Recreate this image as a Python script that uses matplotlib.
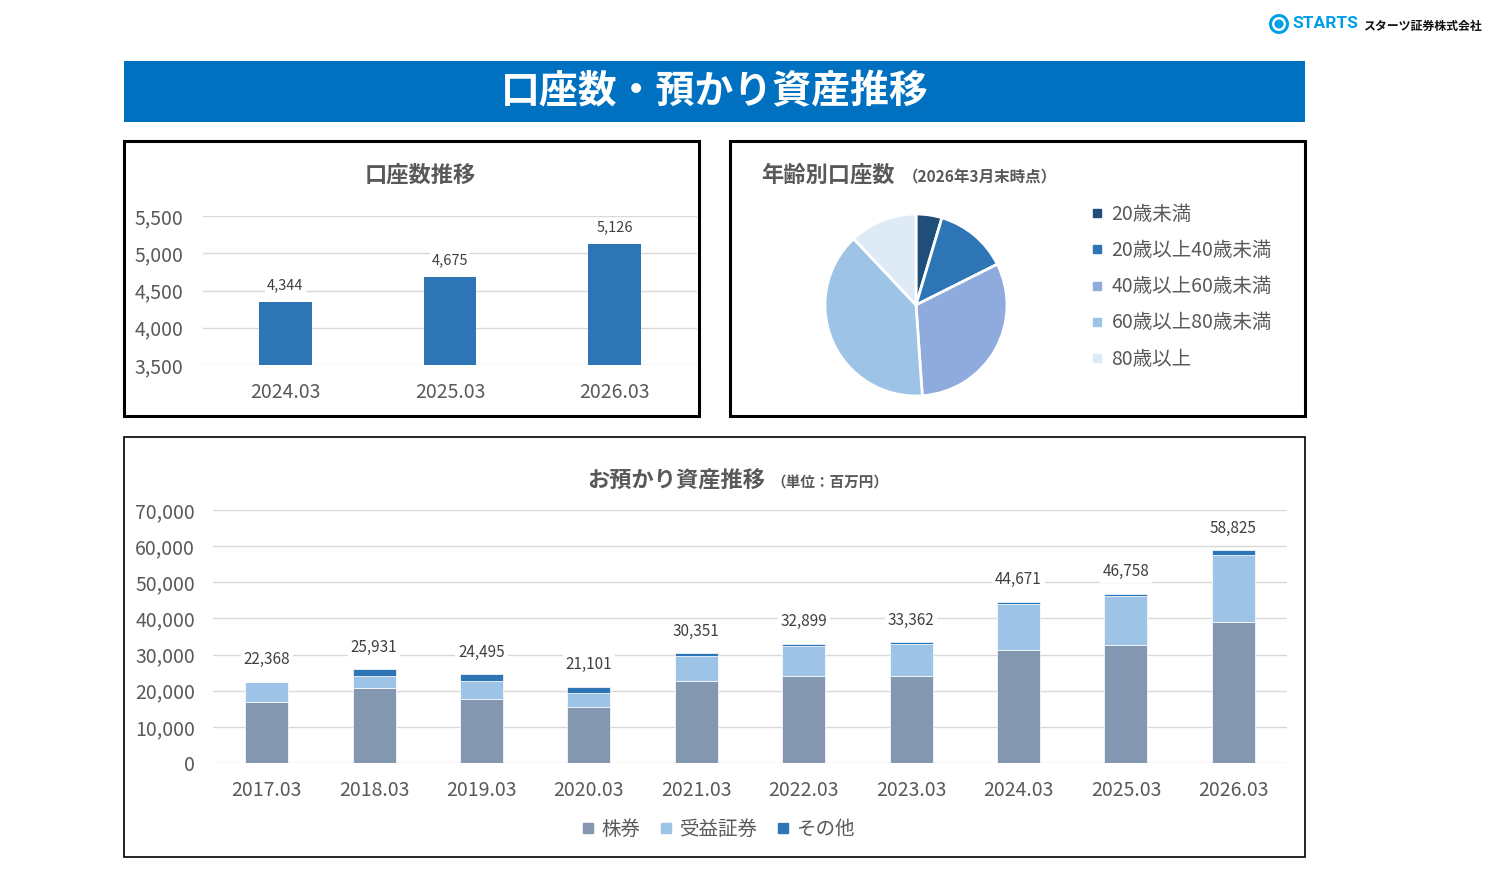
import numpy as np
import matplotlib
matplotlib.use("Agg")
import matplotlib.pyplot as plt
from matplotlib.patches import Rectangle, Ellipse
from matplotlib.lines import Line2D

plt.rcParams['font.family'] = ['Noto Sans CJK JP', 'DejaVu Sans']

# ---- data ----
acct_years = ["2024.03", "2025.03", "2026.03"]
acct_counts = [4344, 4675, 5126]

age_labels = ["20歳未満", "20歳以上40歳未満", "40歳以上60歳未満", "60歳以上80歳未満", "80歳以上"]
age_share = [4.6, 13.0, 31.3, 39.1, 12.0]

asset_years = ["2017.03", "2018.03", "2019.03", "2020.03", "2021.03",
               "2022.03", "2023.03", "2024.03", "2025.03", "2026.03"]
asset_totals = [22368, 25931, 24495, 21101, 30351, 32899, 33362, 44671, 46758, 58825]
stocks = [16900, 20750, 17700, 15450, 22700, 24000, 24100, 31300, 32550, 39100]
funds = [5468, 3280, 5100, 3900, 6850, 8300, 8860, 12600, 13650, 18450]
others = [0, 1901, 1695, 1751, 801, 599, 402, 771, 558, 1275]

# ---- style ----
W, H = 1494, 874
TXT = "#595959"
LBL = "#404040"
GRID = "#D9D9D9"
BLUE = "#2E75B6"
LOGO = "#00A0E9"
pie_colors = ["#1F4E79", "#2E75B6", "#8FAADC", "#9DC3E6", "#DEEBF7"]
asset_colors = ["#8497B0", "#9DC3E6", "#2E75B6"]
asset_names = ["株券", "受益証券", "その他"]


def box(x0, y0, x1, y1):
    return [x0 / W, 1 - y1 / H, (x1 - x0) / W, (y1 - y0) / H]


def fx(x):
    return x / W


def fy(y):
    return 1 - y / H


fig = plt.figure(figsize=(W / 100, H / 100), dpi=100)
fig.patch.set_facecolor("white")

# banner
fig.add_artist(Rectangle((fx(124), fy(122)), (1305 - 124) / W, 61 / H,
                         transform=fig.transFigure, facecolor="#0070C0", edgecolor="none"))
fig.text(fx(715), fy(92), "口座数・預かり資産推移", color="white", fontsize=28,
         fontweight="bold", ha="center", va="center")

# logo
for rad, col in [(10, LOGO), (7, "white"), (4.5, LOGO)]:
    fig.add_artist(Ellipse((fx(1279), fy(24)), 2 * rad / W, 2 * rad / H,
                           transform=fig.transFigure, facecolor=col, edgecolor="none"))
fig.text(fx(1292), fy(24), "STARTS", color=LOGO, fontsize=12.5, fontweight="bold",
         family=["Roboto", "DejaVu Sans"], ha="left", va="center")
fig.text(fx(1363), fy(26), "スターツ証券株式会社", color="#111111", fontsize=8.6,
         fontweight="bold", ha="left", va="center")

# panel frames
for (x0, y0, x1, y1, lw) in [(124, 141, 699, 416, 2.2), (730, 141, 1305, 416, 2.2),
                             (124, 437, 1305, 857, 1.2)]:
    fig.add_artist(Rectangle((fx(x0), fy(y1)), (x1 - x0) / W, (y1 - y0) / H,
                             transform=fig.transFigure, facecolor="none",
                             edgecolor="black", linewidth=lw))

# ---- account count bar chart ----
ax1 = fig.add_axes(box(203, 216, 697, 365))
x1 = np.arange(len(acct_years))
ax1.bar(x1, np.array(acct_counts) - 3500, bottom=3500, width=0.32, color=BLUE, zorder=2)
ax1.set_xlim(-0.5, len(acct_years) - 0.5)
ax1.set_ylim(3500, 5500)
ax1.set_yticks([3500, 4000, 4500, 5000, 5500])
ax1.set_yticklabels([f"{v:,}" for v in [3500, 4000, 4500, 5000, 5500]])
ax1.set_xticks(x1)
ax1.set_xticklabels(acct_years)
ax1.tick_params(length=0, labelsize=14, colors=TXT)
ax1.tick_params(axis="y", pad=14)
ax1.tick_params(axis="x", pad=12)
ax1.grid(axis="y", color=GRID, linewidth=1, zorder=0)
ax1.set_axisbelow(True)
for s in ax1.spines.values():
    s.set_visible(False)
for xi, v in zip(x1, acct_counts):
    ax1.annotate(f"{v:,}", (xi, v), xytext=(0, 12), textcoords="offset points",
                 ha="center", va="center", fontsize=10.5, color=LBL, zorder=4,
                 bbox=dict(facecolor="white", edgecolor="none", pad=1.5))
fig.text(fx(420), fy(175), "口座数推移", fontsize=16, fontweight="bold", color=TXT,
         ha="center", va="center")

# ---- age pie ----
r = 91 * 1.25
ax2 = fig.add_axes(box(916 - r, 305 - r, 916 + r, 305 + r))
wedges, _ = ax2.pie(age_share, colors=pie_colors, startangle=90, counterclock=False,
                    wedgeprops=dict(edgecolor="white", linewidth=2))
ax2.set_xlim(-1.25, 1.25)
ax2.set_ylim(-1.25, 1.25)
fig.text(fx(761), fy(175), "年齢別口座数", fontsize=16, fontweight="bold", color=TXT,
         ha="left", va="center")
fig.text(fx(903), fy(177), "（2026年3月末時点）", fontsize=11.2, fontweight="bold",
         color=TXT, ha="left", va="center")
pie_handles = [Line2D([], [], marker="s", linestyle="", color=c, markersize=5.5)
               for c in pie_colors]
fig.legend(pie_handles, age_labels, loc="upper left",
           bbox_to_anchor=(fx(1091), fy(204)), frameon=False, fontsize=14,
           labelcolor=TXT, handlelength=0.6, handletextpad=0.45, labelspacing=0.78,
           borderpad=0, borderaxespad=0)

# ---- assets stacked bars ----
ax3 = fig.add_axes(box(213, 510, 1287, 763))
x3 = np.arange(len(asset_years))
bottom = np.zeros(len(asset_years))
for vals, c, name in zip([stocks, funds, others], asset_colors, asset_names):
    ax3.bar(x3, vals, bottom=bottom, width=0.40, color=c, edgecolor="white",
            linewidth=0.5, label=name, zorder=2)
    bottom += np.array(vals)
ax3.set_xlim(-0.5, len(asset_years) - 0.5)
ax3.set_ylim(0, 70000)
yt = np.arange(0, 70001, 10000)
ax3.set_yticks(yt)
ax3.set_yticklabels([f"{v:,}" for v in yt])
ax3.set_xticks(x3)
ax3.set_xticklabels(asset_years)
ax3.tick_params(length=0, labelsize=14, colors=TXT)
ax3.tick_params(axis="y", pad=13)
ax3.tick_params(axis="x", pad=12)
ax3.grid(axis="y", color=GRID, linewidth=1, zorder=0)
ax3.set_axisbelow(True)
for s in ax3.spines.values():
    s.set_visible(False)
for xi, v in zip(x3, asset_totals):
    ax3.annotate(f"{v:,}", (xi, v), xytext=(0, 16), textcoords="offset points",
                 ha="center", va="center", fontsize=11, color=LBL, zorder=4,
                 bbox=dict(facecolor="white", edgecolor="none", pad=2))
fig.text(fx(676), fy(481), "お預かり資産推移", fontsize=16, fontweight="bold", color=TXT,
         ha="center", va="center")
fig.text(fx(771), fy(483), "（単位：百万円）", fontsize=10.5, fontweight="bold",
         color=TXT, ha="left", va="center")
asset_handles = [Line2D([], [], marker="s", linestyle="", color=c, markersize=7.5)
                 for c in asset_colors]
fig.legend(asset_handles, asset_names, loc="center", ncol=3,
           bbox_to_anchor=(fx(718), fy(829)), frameon=False, fontsize=14,
           labelcolor=TXT, handlelength=0.7, handletextpad=0.3, columnspacing=1.0,
           borderpad=0)

fig.savefig("out.png", dpi=100, facecolor="white")
